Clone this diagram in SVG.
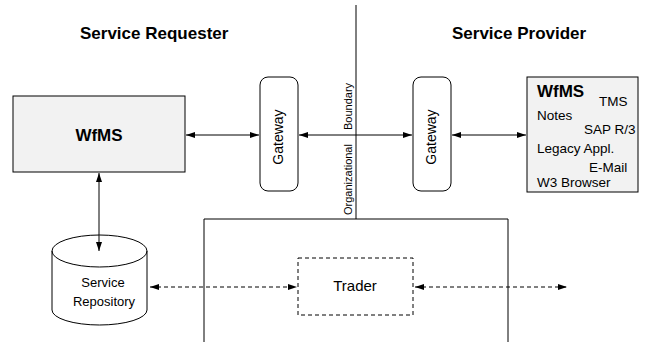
<svg xmlns="http://www.w3.org/2000/svg" width="645" height="342" viewBox="0 0 645 342">
  <style>
    text { font-family: "Liberation Sans", Arial, sans-serif; fill: #000; }
    .head { font-size: 17px; font-weight: bold; }
    .big { font-size: 17px; font-weight: bold; }
    .lbl { font-size: 13px; }
    .app { font-size: 13.5px; }
    .gw { font-size: 14px; }
    .small { font-size: 11px; }
    .box { fill: #f2f2f2; stroke: #000; stroke-width: 1; }
    .plain { fill: #fff; stroke: #000; stroke-width: 1; }
    .line { fill: none; stroke: #000; stroke-width: 1; }
    .dash { fill: none; stroke: #000; stroke-width: 1; stroke-dasharray: 4 3; }
  </style>
  <defs>
    <marker id="ah" markerUnits="userSpaceOnUse" markerWidth="10" markerHeight="8" refX="9" refY="3" orient="auto-start-reverse">
      <path d="M0,0 L9,3 L0,6 Z" fill="#000"/>
    </marker>
  </defs>
  <rect width="645" height="342" fill="#fff"/>

  <text class="head" x="80" y="39">Service Requester</text>
  <text class="head" x="452" y="39">Service Provider</text>

  <!-- organizational boundary -->
  <g id="boundary">
    <line class="line" x1="356" y1="5" x2="356" y2="219"/>
    <text class="small" transform="translate(352,215) rotate(-90)">Organizational</text>
    <text class="small" transform="translate(352,130) rotate(-90)">Boundary</text>
  </g>

  <!-- trader domain frame -->
  <g id="trader-domain">
    <path class="line" d="M204,342 V219 H508 V342"/>
  </g>

  <g id="wfms-requester">
    <rect class="box" x="13" y="96" width="172" height="76"/>
    <text class="big" x="99" y="141" text-anchor="middle">WfMS</text>
  </g>

  <g id="gateway-requester">
    <rect class="plain" x="260" y="77" width="38" height="114" rx="8"/>
    <text class="gw" transform="translate(283,137) rotate(-90)" text-anchor="middle">Gateway</text>
  </g>

  <g id="gateway-provider">
    <rect class="plain" x="413" y="77" width="38" height="114" rx="8"/>
    <text class="gw" transform="translate(436,137) rotate(-90)" text-anchor="middle">Gateway</text>
  </g>

  <g id="wfms-provider">
    <rect class="box" x="527" y="77" width="111" height="115"/>
    <text class="big" x="537" y="97">WfMS</text>
    <text class="app" x="599" y="106">TMS</text>
    <text class="app" x="537" y="120">Notes</text>
    <text class="app" x="584" y="134">SAP R/3</text>
    <text class="app" x="537" y="153">Legacy Appl.</text>
    <text class="app" x="589" y="172">E-Mail</text>
    <text class="app" x="537" y="187">W3 Browser</text>
  </g>

  <g id="service-repository">
    <path class="plain" d="M52,251 V310 A47.5,15 0 0 0 147,310 V251 A47.5,16 0 0 0 52,251 Z"/>
    <path class="line" d="M52,251 A47.5,16 0 0 0 147,251"/>
    <text class="lbl" x="103" y="287" text-anchor="middle">Service</text>
    <text class="lbl" x="104" y="306" text-anchor="middle">Repository</text>
  </g>

  <g id="trader">
    <rect class="dash" x="298" y="258" width="115" height="57"/>
    <text x="355" y="291" text-anchor="middle" style="font-size:15px">Trader</text>
  </g>

  <g id="connectors">
    <line class="line" x1="186" y1="135" x2="259" y2="135" marker-start="url(#ah)" marker-end="url(#ah)"/>
    <line class="line" x1="299" y1="135" x2="412" y2="135" marker-start="url(#ah)" marker-end="url(#ah)"/>
    <line class="line" x1="452" y1="135" x2="526" y2="135" marker-start="url(#ah)" marker-end="url(#ah)"/>
    <line class="line" x1="99" y1="173" x2="99" y2="251" marker-start="url(#ah)" marker-end="url(#ah)"/>
    <line class="dash" x1="150" y1="287" x2="297" y2="287" marker-start="url(#ah)" marker-end="url(#ah)"/>
    <line class="dash" x1="415" y1="287" x2="567" y2="287" marker-start="url(#ah)" marker-end="url(#ah)"/>
  </g>
</svg>
